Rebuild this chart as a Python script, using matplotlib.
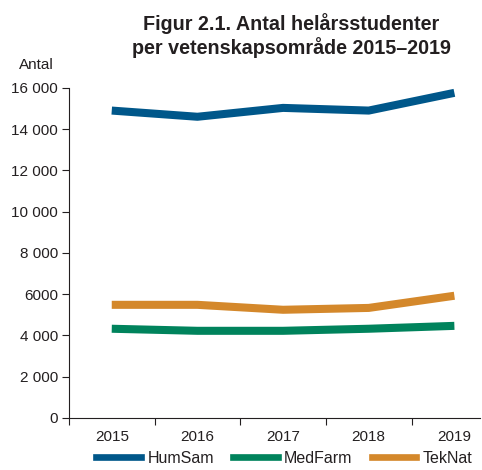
import matplotlib.pyplot as plt
from matplotlib.lines import Line2D

plt.rcParams['font.family'] = ['Liberation Sans', 'DejaVu Sans']

# data
years = ['2015', '2016', '2017', '2018', '2019']
humsam = [14900, 14600, 15030, 14900, 15760]
medfarm = [4320, 4220, 4220, 4320, 4460]
teknat = [5480, 5480, 5240, 5330, 5920]
y_ticks = [0, 2000, 4000, 6000, 8000, 10000, 12000, 14000, 16000]
y_labels = ['0', '2 000', '4 000', '6000', '8 000', '10 000', '12 000', '14 000', '16 000']

col_hum = '#00578a'
col_med = '#00835c'
col_tek = '#d4882b'
txt = '#231f20'

fig = plt.figure(figsize=(4.82, 4.70), dpi=100)
ax = fig.add_axes([0.143, 0.111, 0.853, 0.702])

x = list(range(len(years)))
lw = 5.8
ax.plot(x, humsam, color=col_hum, lw=lw, solid_capstyle='butt', clip_on=False)
ax.plot(x, medfarm, color=col_med, lw=lw, solid_capstyle='butt', clip_on=False)
ax.plot(x, teknat, color=col_tek, lw=lw, solid_capstyle='butt', clip_on=False)

ax.set_ylim(0, 16000)
ax.set_xlim(-0.5, 4.3)
ax.set_yticks(y_ticks)
ax.set_yticklabels(y_labels)
ax.set_xticks([i - 0.5 for i in range(len(years))])
ax.set_xticklabels([])
ax.set_xticks(x, minor=True)
ax.set_xticklabels(years, minor=True)
ax.tick_params(axis='x', which='minor', length=0, pad=9)
ax.tick_params(axis='x', which='major', length=5, width=0.8, color=txt)
ax.tick_params(axis='y', length=5, width=0.8, color=txt, pad=3)
ax.tick_params(labelsize=11, labelcolor=txt, which='both')

for s in ['top', 'right']:
    ax.spines[s].set_visible(False)
for s in ['left', 'bottom']:
    ax.spines[s].set_color(txt)
    ax.spines[s].set_linewidth(0.8)

fig.text(0.04, 0.862, 'Antal', fontsize=11, color=txt, ha='left', va='center')
fig.text(0.605, 0.972, 'Figur 2.1. Antal helårsstudenter\nper vetenskapsområde 2015\u20132019',
         fontsize=14.2, fontweight='bold', color=txt, ha='center', va='top', linespacing=1.15)

handles = [Line2D([], [], color=c, lw=4.8) for c in (col_hum, col_med, col_tek)]
fig.legend(handles, ['HumSam', 'MedFarm', 'TekNat'], loc='center', bbox_to_anchor=(0.59, 0.025),
           ncol=3, frameon=False, fontsize=11.5, handlelength=2.8, columnspacing=1.2,
           handletextpad=0.4, labelcolor=txt, borderpad=0.2)

fig.savefig('out.png', dpi=100)
